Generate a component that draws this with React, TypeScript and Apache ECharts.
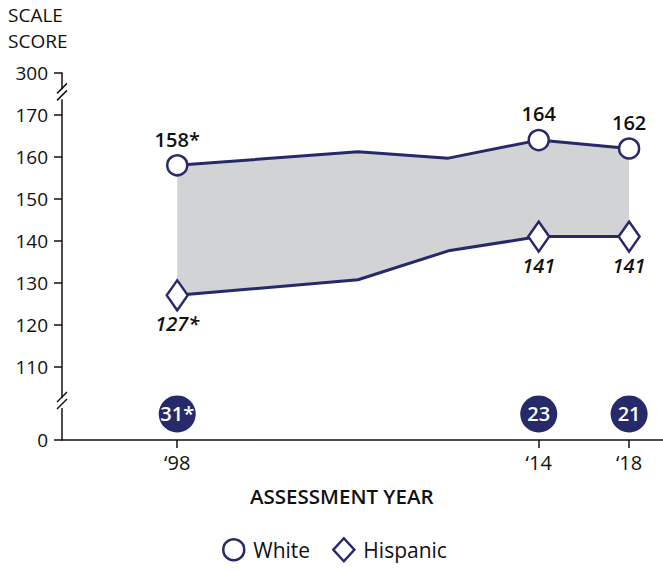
import React, { useEffect, useRef } from "react";
import * as echarts from "echarts";

const YEARS = [1998, 2006, 2010, 2014, 2018];
const WHITE = [158, 161.2, 159.7, 164, 162];
const HISPANIC = [127, 130.7, 137.6, 141, 141];
const WHITE_LABELS = ["158*", "", "", "164", "162"];
const HISPANIC_LABELS = ["127*", "", "", "141", "141"];
const GAP_YEARS = [1998, 2014, 2018];
const GAP_LABELS = ["31*", "23", "21"];
const X_TICKS = [1998, 2014, 2018];
const Y_TICKS = [110, 120, 130, 140, 150, 160, 170];
const Y_BOTTOM_LABEL = "0";
const Y_TOP_LABEL = "300";

// layout of the broken axis (display units)
const Y_MIN = 92.5;
const Y_MAX = 180;
const GAP_ROW = 98.7;
const BREAK_LOW = 101.3;
const BREAK_HIGH = 174.9;

const NAVY = "#262a6b";
const GRAY = "#d1d3d4";
const FONT = "'Open Sans', 'Noto Sans', sans-serif";

export default function App() {
  const ref = useRef<HTMLDivElement>(null);
  useEffect(() => {
    const chart = echarts.init(ref.current!, null, { renderer: "svg" });
    const option: any = {
      animation: false,
      textStyle: { fontFamily: FONT },
      title: [
        {
          text: "SCALE\nSCORE",
          left: 8,
          top: 2,
          padding: 0,
          textStyle: { fontFamily: FONT, fontSize: 19, fontWeight: "normal", color: "#111", lineHeight: 26 },
        },
        {
          text: "ASSESSMENT YEAR",
          left: 250,
          top: 485,
          padding: 0,
          textStyle: { fontFamily: FONT, fontSize: 20.5, fontWeight: 600, color: "#111" },
        },
      ],
      legend: {
        left: 222,
        top: 537,
        padding: 0,
        itemWidth: 21,
        itemHeight: 23,
        itemGap: 22,
        textStyle: { fontFamily: FONT, fontSize: 21, color: "#111", padding: [0, 0, 0, 4] },
        itemStyle: { color: "#fff", borderColor: NAVY, borderWidth: 2.5 },
        data: [
          { name: "White", icon: "circle" },
          { name: "Hispanic", icon: "diamond" },
        ],
      },
      grid: { left: 62, right: 0, top: 73, bottom: 131 },
      xAxis: {
        type: "value",
        min: 1992.9,
        max: 2019.5,
        splitLine: { show: false },
        axisLine: { show: true, lineStyle: { color: "#111", width: 1.5 } },
        axisTick: { show: true, length: 8, customValues: X_TICKS, lineStyle: { color: "#111", width: 1.5 } },
        axisLabel: {
          customValues: X_TICKS,
          margin: 12,
          fontFamily: FONT,
          fontSize: 20,
          color: "#111",
          formatter: (v: number) => "\u2018" + String(v).slice(2),
        },
      },
      yAxis: {
        type: "value",
        min: Y_MIN,
        max: Y_MAX,
        splitLine: { show: false },
        axisLine: { show: true, lineStyle: { color: "#111", width: 1.5 } },
        axisTick: {
          show: true,
          length: 8,
          customValues: [Y_MIN, ...Y_TICKS, Y_MAX],
          lineStyle: { color: "#111", width: 1.5 },
        },
        axisLabel: {
          customValues: [Y_MIN, ...Y_TICKS, Y_MAX],
          margin: 14,
          fontFamily: FONT,
          fontSize: 19,
          color: "#111",
          formatter: (v: number) =>
            v === Y_MIN ? Y_BOTTOM_LABEL : v === Y_MAX ? Y_TOP_LABEL : String(v),
        },
      },
      series: [
        {
          name: "band",
          type: "custom",
          silent: true,
          z: 1,
          data: YEARS.map((y, i) => [y, WHITE[i], HISPANIC[i]]),
          encode: { x: 0, y: [1, 2] },
          renderItem: (params: any, api: any) => {
            if (params.dataIndex !== 0) return null;
            const top = YEARS.map((y, i) => api.coord([y, WHITE[i]]));
            const bottom = YEARS.map((y, i) => api.coord([y, HISPANIC[i]])).reverse();
            return {
              type: "polygon",
              shape: { points: [...top, ...bottom] },
              style: { fill: GRAY },
            };
          },
        },
        {
          name: "White",
          type: "line",
          data: YEARS.map((y, i) => ({
            value: [y, WHITE[i]],
            symbol: WHITE_LABELS[i] ? "circle" : "none",
            label: { show: !!WHITE_LABELS[i], formatter: WHITE_LABELS[i] },
          })),
          symbolSize: 20,
          showAllSymbol: true,
          z: 5,
          lineStyle: { color: NAVY, width: 3 },
          itemStyle: { color: "#fff", borderColor: NAVY, borderWidth: 2.5 },
          label: {
            position: "top",
            distance: 5,
            fontFamily: FONT,
            fontSize: 20,
            fontWeight: 600,
            color: "#111",
          },
        },
        {
          name: "Hispanic",
          type: "line",
          data: YEARS.map((y, i) => ({
            value: [y, HISPANIC[i]],
            symbol: HISPANIC_LABELS[i] ? "diamond" : "none",
            label: { show: !!HISPANIC_LABELS[i], formatter: HISPANIC_LABELS[i] },
          })),
          symbolSize: [21, 30],
          showAllSymbol: true,
          z: 5,
          lineStyle: { color: NAVY, width: 3 },
          itemStyle: { color: "#fff", borderColor: NAVY, borderWidth: 2.5 },
          label: {
            position: "bottom",
            distance: 2,
            fontFamily: FONT,
            fontSize: 20,
            fontWeight: 600,
            fontStyle: "italic",
            color: "#111",
          },
        },
        {
          name: "gap",
          type: "scatter",
          data: GAP_YEARS.map((y, i) => ({ value: [y, GAP_ROW], label: { formatter: GAP_LABELS[i] } })),
          symbol: "circle",
          symbolSize: 37,
          z: 6,
          itemStyle: { color: NAVY, opacity: 1 },
          label: {
            show: true,
            position: "inside",
            fontFamily: FONT,
            fontSize: 20,
            fontWeight: 600,
            color: "#fff",
          },
        },
      ],
    };
    chart.setOption(option);

    const breakMarks = (val: number) => {
      const [x, y] = chart.convertToPixel({ xAxisIndex: 0, yAxisIndex: 0 }, [1992.9, val]) as number[];
      return [
        { type: "rect", shape: { x: x - 3, y: y - 5, width: 6, height: 10 }, style: { fill: "#fff" }, z: 100 },
        { type: "line", shape: { x1: x - 5, y1: y - 1, x2: x + 5, y2: y - 11 }, style: { stroke: "#111", lineWidth: 1.5 }, z: 101 },
        { type: "line", shape: { x1: x - 5, y1: y + 6, x2: x + 5, y2: y - 4 }, style: { stroke: "#111", lineWidth: 1.5 }, z: 101 },
      ];
    };
    chart.setOption({ graphic: [...breakMarks(BREAK_HIGH), ...breakMarks(BREAK_LOW)] });

    return () => chart.dispose();
  }, []);
  return (
    <div
      ref={ref}
      style={{ position: "fixed", left: 0, top: 0, width: 663, height: 571, background: "#fff" }}
    />
  );
}
